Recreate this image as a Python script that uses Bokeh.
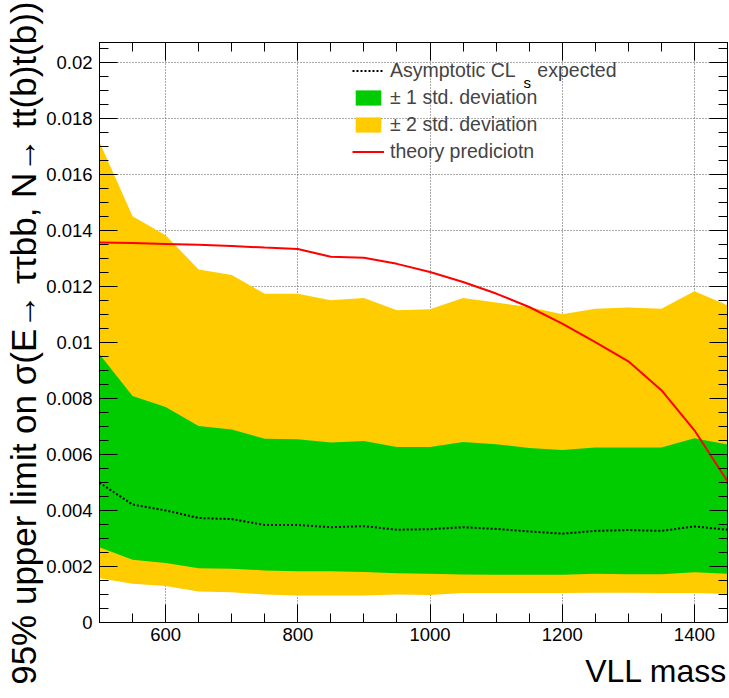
from bokeh.plotting import figure
from bokeh.models import (ColumnDataSource, Range1d, FixedTicker, LinearAxis,
                          Legend, LegendItem, Label, Title, Grid)
from bokeh.embed import file_html
from bokeh.resources import INLINE

# ---- data ----
mass = [500, 550, 600, 650, 700, 750, 800, 850, 900, 950,
        1000, 1050, 1100, 1150, 1200, 1250, 1300, 1350, 1400, 1450]
upper2 = [0.01715, 0.0145, 0.01382, 0.0126, 0.0124, 0.01173, 0.01173, 0.0115, 0.01158, 0.01114,
          0.01118, 0.01158, 0.01142, 0.01126, 0.0110, 0.0112, 0.01124, 0.0112, 0.01182, 0.01132]
upper1 = [0.00957, 0.00808, 0.00769, 0.00701, 0.00689, 0.00656, 0.00654, 0.00642, 0.00648, 0.00626,
          0.00626, 0.00644, 0.00636, 0.00623, 0.00616, 0.00625, 0.00625, 0.00625, 0.00658, 0.00635]
expected = [0.00499, 0.00421, 0.0040, 0.00373, 0.00369, 0.00348, 0.00348, 0.0034, 0.00344, 0.00331,
            0.00333, 0.0034, 0.00334, 0.00325, 0.00317, 0.00327, 0.0033, 0.00327, 0.00343, 0.00331]
lower1 = [0.00269, 0.00224, 0.00212, 0.00194, 0.00192, 0.00186, 0.00183, 0.00183, 0.0018, 0.00176,
          0.00174, 0.00171, 0.0017, 0.0017, 0.0017, 0.00174, 0.00172, 0.00172, 0.00179, 0.00174]
lower2 = [0.00158, 0.00138, 0.0013, 0.00111, 0.00108, 0.0010, 0.00096, 0.00096, 0.00096, 0.0010,
          0.00098, 0.00105, 0.00105, 0.00105, 0.00105, 0.00106, 0.00106, 0.00105, 0.00105, 0.00102]
theory = [0.01356, 0.01354, 0.01351, 0.01348, 0.01344, 0.01338, 0.01333, 0.01305, 0.01302, 0.0128,
          0.01251, 0.01215, 0.01174, 0.01126, 0.01067, 0.01001, 0.00932, 0.00829, 0.00686, 0.00504]

x_ticks = [600, 800, 1000, 1200, 1400]
x_tick_labels = ["600", "800", "1000", "1200", "1400"]
y_ticks = [0.0, 0.002, 0.004, 0.006, 0.008, 0.01, 0.012, 0.014, 0.016, 0.018, 0.02]
y_tick_labels = ["0", "0.002", "0.004", "0.006", "0.008", "0.01", "0.012", "0.014", "0.016", "0.018", "0.02"]

legend_labels = ["Asymptotic CL\u00a0\u00a0\u00a0\u00a0expected", "\u00b1 1 std. deviation",
                 "\u00b1 2 std. deviation", "theory prediciotn"]
x_title = "VLL mass"
y_title = "95% upper limit on \u03c3(E\u2192 \u03c4\u03c4bb, N\u2192 tt(b)t(b))"

FONT = "Liberation Sans"

src = ColumnDataSource(dict(mass=mass, upper2=upper2, upper1=upper1, expected=expected,
                            lower1=lower1, lower2=lower2, theory=theory))

p = figure(width=729, height=698, x_range=Range1d(500, 1450), y_range=Range1d(0, 0.0207),
           output_backend="svg", toolbar_location=None, title=None,
           min_border_left=99, min_border_right=2, min_border_top=42, min_border_bottom=76,
           x_axis_type=None, y_axis_type=None)
p.background_fill_color = "white"
p.border_fill_color = "white"
p.outline_line_color = "black"

x_minor = [v for v in range(500, 1451, 50) if v not in x_ticks]
y_minor = [round(i * 0.0005, 4) for i in range(0, 42)]

xt = FixedTicker(ticks=x_ticks, minor_ticks=x_minor)
yt = FixedTicker(ticks=y_ticks, minor_ticks=y_minor)


def style_axis(ax, show_labels):
    ax.axis_line_color = "black"
    ax.major_tick_line_color = "black"
    ax.minor_tick_line_color = "black"
    ax.major_tick_in = 18
    ax.major_tick_out = 0
    ax.minor_tick_in = 9
    ax.minor_tick_out = 0
    if show_labels:
        ax.major_label_text_font = FONT
        ax.major_label_text_font_size = "18.5px"
        ax.major_label_text_color = "black"
    else:
        ax.major_label_text_font_size = "0px"
        ax.major_label_text_alpha = 0
        ax.major_label_standoff = 0


xb = LinearAxis(ticker=xt, major_label_overrides=dict(zip(x_ticks, x_tick_labels)))
style_axis(xb, True)
xb.major_label_standoff = 5
p.add_layout(xb, "below")

yl = LinearAxis(ticker=yt, major_label_overrides=dict(zip(y_ticks, y_tick_labels)))
style_axis(yl, True)
yl.major_label_standoff = 7
p.add_layout(yl, "left")

xtop = LinearAxis(ticker=xt)
style_axis(xtop, False)
p.add_layout(xtop, "above")
yr = LinearAxis(ticker=yt)
style_axis(yr, False)
p.add_layout(yr, "right")

p.add_layout(Title(text=x_title, align="right", text_font=FONT, text_font_size="32px",
                   text_font_style="normal", text_color="black", standoff=14), "below")

# y-axis title, right-aligned towards the top (as ROOT does)
p.add_layout(Title(text=y_title, align="right", offset=-41, standoff=2, text_font=FONT,
                   text_font_size="35px", text_font_style="normal", text_color="black"), "left")

p.add_layout(Grid(dimension=0, ticker=xt, grid_line_color="#555555", grid_line_dash="1 2",
                  grid_line_width=1))
p.add_layout(Grid(dimension=1, ticker=yt, grid_line_color="#555555", grid_line_dash="1 2",
                  grid_line_width=1))

r2 = p.varea(x="mass", y1="lower2", y2="upper2", source=src, fill_color="#FFCC00")
r1 = p.varea(x="mass", y1="lower1", y2="upper1", source=src, fill_color="#00CC00")
re = p.line("mass", "expected", source=src, line_color="black", line_width=2, line_dash="2 2")
rt = p.line("mass", "theory", source=src, line_color="#FF0000", line_width=2)

legend = Legend(items=[LegendItem(label=legend_labels[0], renderers=[re]),
                       LegendItem(label=legend_labels[1], renderers=[r1]),
                       LegendItem(label=legend_labels[2], renderers=[r2]),
                       LegendItem(label=legend_labels[3], renderers=[rt])],
                location=(253, 459), glyph_width=32, glyph_height=19, label_standoff=6,
                spacing=4, padding=0, margin=0, border_line_color=None,
                background_fill_alpha=0, label_text_font=FONT, label_text_font_size="19.5px",
                label_height=21)
p.add_layout(legend)

p.add_layout(Label(x=424, y=532, x_units="screen", y_units="screen", text="s",
                   text_font=FONT, text_font_size="15px", text_color="black"))

open("out.html", "w").write(file_html(p, INLINE))
